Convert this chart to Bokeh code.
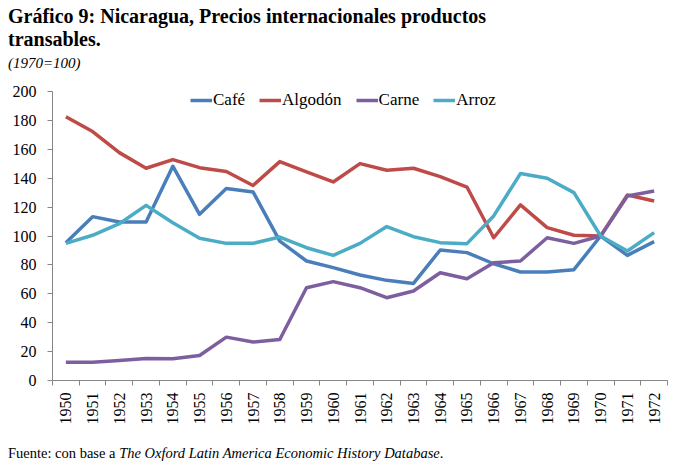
from bokeh.plotting import figure
from bokeh.models import Range1d, FixedTicker, Legend, LegendItem, Div
from bokeh.layouts import column, row
from bokeh.embed import file_html
from bokeh.resources import INLINE
import math

years = list(range(1950, 1973))
cafe = [95.4, 113.4, 109.7, 109.7, 148.3, 115.0, 132.8, 130.5, 96.5, 82.7, 78.1,
        73.0, 69.3, 67.2, 90.3, 88.5, 80.8, 75.1, 75.1, 76.7, 100.0, 86.6, 96.1]
algodon = [182.5, 172.3, 157.7, 146.9, 152.9, 147.3, 144.6, 134.9, 151.5, 144.3, 137.4,
           150.1, 145.5, 146.9, 141.1, 133.9, 98.8, 121.5, 105.8, 100.5, 100.0, 128.4, 124.2]
carne = [12.7, 12.7, 13.9, 15.2, 15.0, 17.3, 30.0, 26.6, 28.4, 64.2, 68.4,
         64.2, 57.3, 61.9, 74.6, 70.4, 81.5, 82.7, 98.8, 94.9, 100.0, 127.7, 131.2]
arroz = [94.9, 100.5, 108.5, 121.2, 109.2, 98.4, 94.9, 94.9, 99.3, 91.9, 86.6,
         94.9, 106.5, 99.5, 95.4, 94.7, 113.9, 143.2, 140.0, 130.0, 100.0, 89.6, 102.3]
series_names = ["Café", "Algodón", "Carne", "Arroz"]
series_colors = ["#4A7EBB", "#BE4B48", "#7D5FA0", "#4BACC6"]
y_ticks = list(range(0, 201, 20))

title_lines = ["Gráfico 9: Nicaragua, Precios internacionales productos", "transables."]
subtitle = "(1970=100)"
source_a = "Fuente: con base a "
source_b = "The Oxford Latin America Economic History Database"
source_c = "."

SERIF = "Liberation Serif"
TOTAL_H = 461
W = 668
TOPGAP = 7
HEAD_H, FIG_H, FOOT_H = 68, 370, 16
FT, FB = 16, 305
FL, FR = 47, 662

def gap(w, h):
    return Div(text="", width=w, height=h, styles={"margin": "0", "padding": "0"})

head = Div(
    text=(f'<div style="margin-top:-2px; padding-left:3px; font-weight:bold; font-size:20px; '
          f'line-height:23px; white-space:nowrap;">{title_lines[0]}<br>{title_lines[1]}</div>'
          f'<div style="margin-top:3px; padding-left:3px; font-style:italic; font-size:15px; '
          f'line-height:18px;">{subtitle}</div>'),
    width=W, height=HEAD_H,
    styles={"font-family": SERIF, "color": "black", "margin": "0", "padding": "0"})

foot = Div(
    text=f'<div style="padding-left:3px;">{source_a}<i>{source_b}</i>{source_c}</div>',
    width=W, height=FOOT_H,
    styles={"font-family": SERIF, "color": "black", "font-size": "14.5px",
            "line-height": "16px", "white-space": "nowrap", "margin": "0", "padding": "0"})

p = figure(width=W, height=FIG_H, output_backend="svg", toolbar_location=None,
           x_range=Range1d(years[0] - 0.5, years[-1] + 0.5), y_range=Range1d(0, 200),
           min_border_left=FL, min_border_right=W - FR,
           min_border_top=FT, min_border_bottom=FIG_H - FB)
p.outline_line_color = None
p.grid.visible = False

renderers = []
for vals, col in zip([cafe, algodon, carne, arroz], series_colors):
    renderers.append(p.line(years, vals, line_color=col, line_width=3.5, line_join="round"))

xa = p.xaxis[0]
xa.ticker = FixedTicker(ticks=years, minor_ticks=[y - 0.5 for y in years] + [years[-1] + 0.5])
xa.major_label_overrides = {y: str(y) for y in years}
xa.major_label_orientation = math.pi / 2
xa.major_tick_out = 0
xa.major_tick_in = 0
xa.minor_tick_out = 5
xa.minor_tick_in = 0
xa.minor_tick_line_color = "#868686"
xa.axis_line_color = "#868686"
xa.major_label_text_font = SERIF
xa.major_label_text_font_size = "16px"
xa.major_label_text_color = "black"
xa.major_label_standoff = 7

ya = p.yaxis[0]
ya.ticker = FixedTicker(ticks=y_ticks, minor_ticks=[])
ya.major_tick_out = 5
ya.major_tick_in = 0
ya.major_tick_line_color = "#868686"
ya.axis_line_color = "#868686"
ya.major_label_text_font = SERIF
ya.major_label_text_font_size = "16px"
ya.major_label_text_color = "black"
ya.major_label_standoff = 11

legend = Legend(items=[LegendItem(label=n, renderers=[r]) for n, r in zip(series_names, renderers)],
                orientation="horizontal", location=(138, 270),
                glyph_width=22, glyph_height=16, label_standoff=1, spacing=14,
                padding=0, margin=0, border_line_color=None, background_fill_alpha=0,
                label_text_font=SERIF, label_text_font_size="17px", label_text_color="black",
                label_height=16)
p.add_layout(legend)

main_col = column(gap(W, TOPGAP), head, p, foot, spacing=0)
layout = row(gap(5, TOTAL_H), main_col, spacing=0)
open("out.html", "w").write(file_html(layout, INLINE))
